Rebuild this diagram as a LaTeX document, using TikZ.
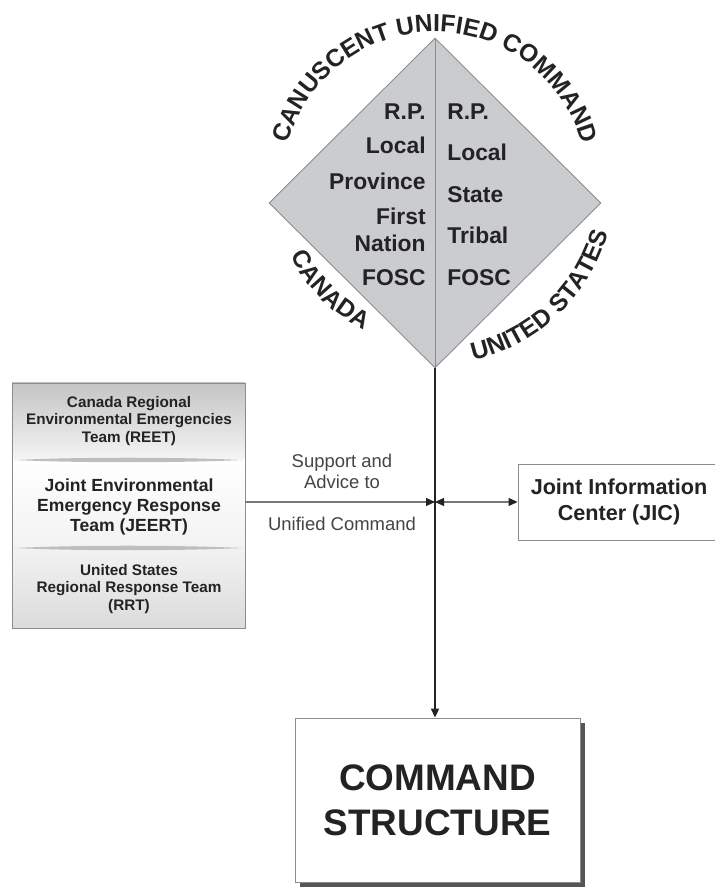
\documentclass[tikz,border=0pt]{standalone}
\usepackage{fontspec}
\setmainfont{Liberation Sans}
\usepackage{tikz}
\usetikzlibrary{shapes.geometric, arrows.meta, positioning, calc, decorations.text, shadows}
\definecolor{mydark}{RGB}{35,35,35}
\definecolor{mgframe}{RGB}{140,140,140}
\definecolor{dmdfill}{RGB}{203,204,208}
\definecolor{lensgray}{RGB}{190,190,190}
\definecolor{panelgray}{RGB}{196,196,196}
\definecolor{shadowgray}{RGB}{85,85,85}
\definecolor{linkgray}{RGB}{120,120,120}
\newcommand{\arcfont}{\fontsize{14}{14}\selectfont\bfseries\color{mydark}}
\tikzset{
  dlabel/.style={font=\fontsize{13}{13}\selectfont\bfseries, text=mydark,
    inner sep=0pt, text height=0.716em, text depth=0pt},
  teamtext/.style={align=center, font=\fontsize{8.7}{10}\selectfont\bfseries,
    text=mydark, inner sep=0pt},
  jointtext/.style={align=center, font=\fontsize{10}{11.4}\selectfont\bfseries,
    text=mydark, inner sep=0pt},
  linklabel/.style={align=center, font=\fontsize{10.5}{12}\selectfont,
    text=mydark!85, inner sep=0pt},
  infobox/.style={rectangle, draw=mgframe, fill=white, line width=0.5pt,
    align=center, font=\fontsize{12.3}{15}\selectfont\bfseries, text=mydark},
  cmdbox/.style={rectangle, draw=mgframe, fill=white, line width=0.5pt,
    minimum width=5.7cm, minimum height=3.28cm, align=center,
    font=\fontsize{21}{25.6}\selectfont\bfseries, text=mydark,
    drop shadow={shadow xshift=0.1cm, shadow yshift=-0.1cm, fill=shadowgray, opacity=1}},
  ctip/.tip={Triangle[length=1.8mm, width=1.6mm, color=mydark]},
  link/.style={draw=linkgray, line width=0.6pt},
  mainline/.style={draw=mydark, line width=1.1pt}
}
\begin{document}
\begin{tikzpicture}
  \useasboundingbox (0,0) rectangle (14.3,17.76);

  % ── Unified command diamond ────────────────────────────────────────────────
  \node[diamond, draw=mgframe, fill=dmdfill, line width=0.5pt,
        minimum width=6.64cm, minimum height=6.6cm, inner sep=0pt] (uc) at (8.70,13.70) {};
  \draw[draw=mgframe, line width=0.5pt] (uc.north) -- (uc.south);

  % Canada column
  \node[dlabel, anchor=east] (lrp)     at (8.52,15.49) {R.P.};
  \node[dlabel, anchor=east] (llocal)  at (8.52,14.81) {Local};
  \node[dlabel, anchor=east] (lprov)   at (8.52,14.10) {Province};
  \node[dlabel, anchor=east] (lfirst)  at (8.52,13.39) {First};
  \node[dlabel, anchor=east] (lnation) at (8.52,12.86) {Nation};
  \node[dlabel, anchor=east] (lfosc)   at (8.52,12.18) {FOSC};
  % United States column
  \node[dlabel, anchor=west] (rrp)     at (8.94,15.49) {R.P.};
  \node[dlabel, anchor=west] (rlocal)  at (8.94,14.68) {Local};
  \node[dlabel, anchor=west] (rstate)  at (8.94,13.83) {State};
  \node[dlabel, anchor=west] (rtribal) at (8.94,13.01) {Tribal};
  \node[dlabel, anchor=west] (rfosc)   at (8.94,12.18) {FOSC};

  % ── Curved titles ──────────────────────────────────────────────────────────
  \coordinate (arcc) at (8.70,14.06);
  \path[decorate, decoration={text along path, text align=center,
        text={|\arcfont|CANUSCENT UNIFIED COMMAND}}]
    ($(arcc)+(178:3.06)$) arc[start angle=178, end angle=2, radius=3.06cm];
  \path[decorate, decoration={text along path, text align=center,
        text={|\arcfont|CANADA}}]
    ($(arcc)+(190:3.22)$) arc[start angle=190, end angle=260, radius=3.22cm];
  \path[decorate, decoration={text along path, text align=center,
        text={|\arcfont|UNITED STATES}}]
    ($(arcc)+(270:3.59)$) arc[start angle=270, end angle=357, radius=3.59cm];

  % ── Regional teams panel ───────────────────────────────────────────────────
  \shade[top color=panelgray, bottom color=gray!8] (0.24,8.56) rectangle (4.90,10.10);
  \shade[top color=white, bottom color=gray!10] (0.24,6.80) rectangle (4.90,8.56);
  \shade[top color=gray!10, bottom color=gray!28] (0.24,5.20) rectangle (4.90,6.80);
  \fill[lensgray] (0.28,8.56) .. controls (1.6,8.50) and (3.5,8.50) .. (4.86,8.56)
                  .. controls (3.5,8.62) and (1.6,8.62) .. (0.28,8.56) -- cycle;
  \fill[lensgray] (0.28,6.80) .. controls (1.6,6.74) and (3.5,6.74) .. (4.86,6.80)
                  .. controls (3.5,6.86) and (1.6,6.86) .. (0.28,6.80) -- cycle;
  \node[draw=mgframe, line width=0.5pt, minimum width=4.66cm, minimum height=4.9cm,
        inner sep=0pt] (lbox) at (2.57,7.65) {};
  \node[teamtext] (reet) at (2.58,9.34) {Canada Regional\\Environmental Emergencies\\Team (REET)};
  \node[jointtext] (jeert) at (2.58,7.62) {Joint Environmental\\Emergency Response\\Team (JEERT)};
  \node[teamtext] (rrt) at (2.58,5.98) {United States\\Regional Response Team\\(RRT)};

  % ── Information centre and command structure ───────────────────────────────
  \node[infobox, minimum width=4.04cm, minimum height=1.52cm] (jic) at (12.38,7.72)
    {Joint Information\\Center (JIC)};
  \node[cmdbox] (cmd) at (8.75,1.76) {COMMAND\\STRUCTURE};

  % ── Connectors ─────────────────────────────────────────────────────────────
  \coordinate (jn) at (uc.south |- jic.west);
  \draw[mainline, -{ctip}] (uc.south) -- (uc.south |- cmd.north);
  \draw[link, -{ctip}] (lbox.east |- jn) -- (jn);
  \draw[link, {ctip}-{ctip}] (jn) -- (jic.west);
  \node[linklabel] (adv) at (6.84,8.33) {Support and\\Advice to};
  \node[linklabel] (ucmd) at (6.84,7.28) {Unified Command};
\end{tikzpicture}
\end{document}
